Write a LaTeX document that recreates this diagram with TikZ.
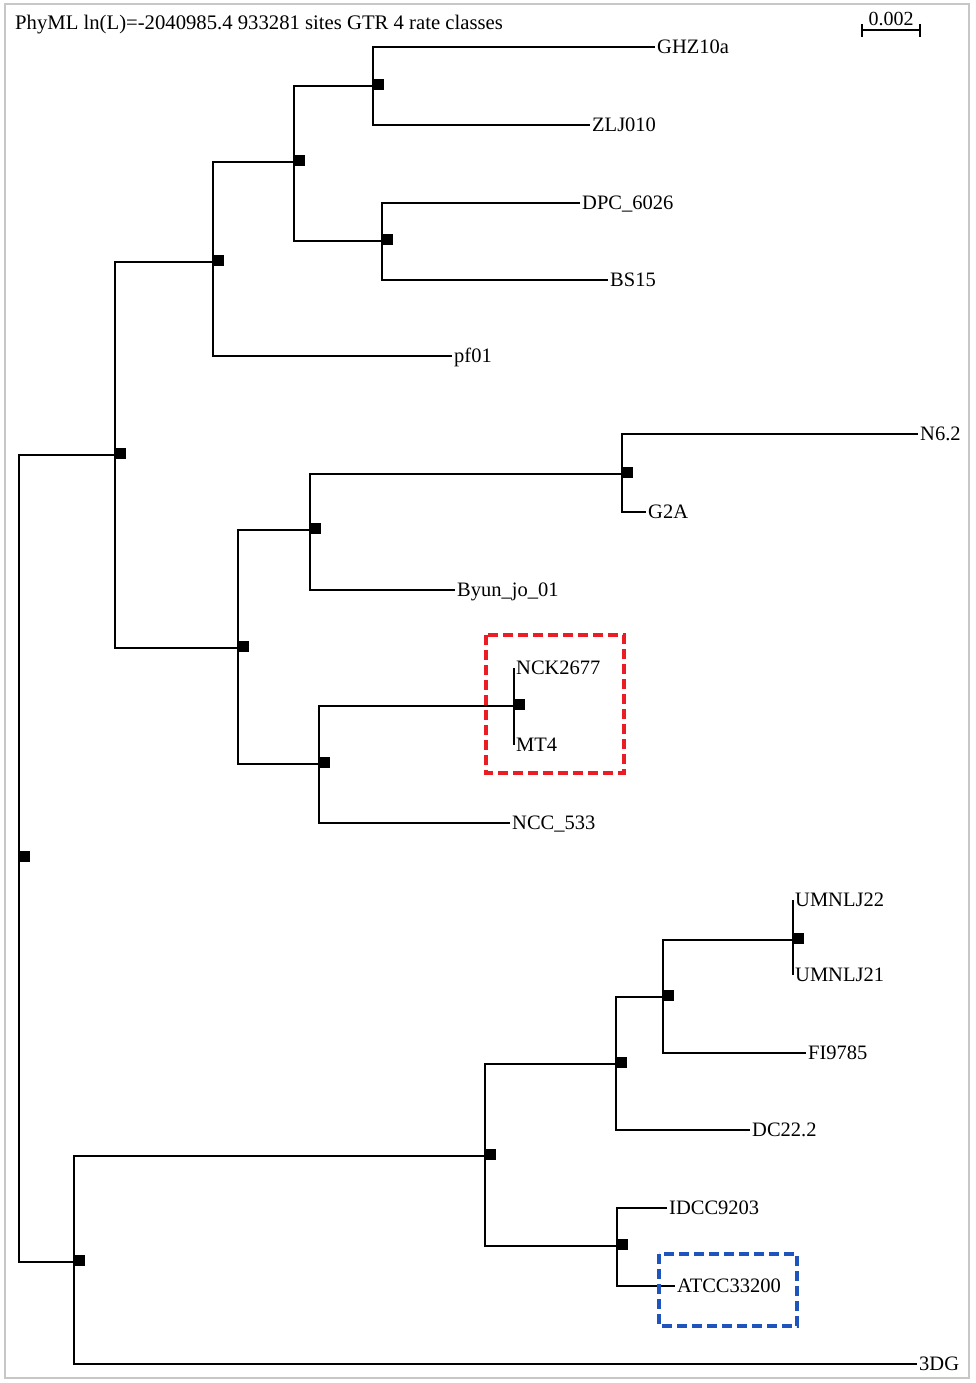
\documentclass[tikz,border=0pt]{standalone}
\usepackage{fontspec}
\setmainfont{Liberation Serif}
\usetikzlibrary{calc}
\definecolor{boxred}{RGB}{236,28,36}
\definecolor{boxblue}{RGB}{31,84,190}
\tikzset{
	leaf/.style={anchor=west, inner xsep=2pt, inner ysep=0pt, text height=13.5pt, text depth=0pt, font=\fontsize{20.5}{24}\selectfont},
	knot/.style={fill=black, inner sep=0pt, minimum size=11pt, anchor=west, yshift=1.5pt},
	branch/.style={line width=1.6pt}
}
\def\knotat(#1){\node[knot] at (#1) {};}

\begin{document}
\begin{tikzpicture}[x=1pt, y=-1pt]
			%%%%% START %%%%%
			\useasboundingbox (0, 0) rectangle (975, 1383);
			\draw[line width=2pt, color=black!22] (5, 4) rectangle (969, 1378);
			
			\node[anchor=base west, inner sep=0pt, font=\fontsize{20.7}{24}\selectfont] (title) at (15, 30) {PhyML ln(L)=-2040985.4 933281 sites GTR 4 rate classes};
			
			% scale bar
			\coordinate (sbl) at (862, 30);
			\coordinate (sbr) at (920, 30);
			\draw[line width=1.4pt] (sbl) -- (sbr);
			\draw[line width=1.4pt] ($(sbl)+(0,-6)$) -- ($(sbl)+(0,7)$);
			\draw[line width=1.4pt] ($(sbr)+(0,-6)$) -- ($(sbr)+(0,7)$);
			\node[anchor=base, inner sep=0pt, font=\fontsize{20}{24}\selectfont] (scale) at (891, 26) {0.002};
			
			% internal nodes
			\coordinate (root) at (19, 857.5);
			\coordinate (A) at (115, 455);
			\coordinate (AA) at (213, 262);
			\coordinate (AAA) at (294, 162);
			\coordinate (AAAA) at (373, 86);
			\coordinate (AAAB) at (382, 241);
			\coordinate (AB) at (238, 648);
			\coordinate (ABA) at (310, 530);
			\coordinate (ABAA) at (622, 474);
			\coordinate (ABB) at (319, 764);
			\coordinate (ABBA) at (514, 706);
			\coordinate (B) at (74, 1262);
			\coordinate (BA) at (485, 1156);
			\coordinate (BAA) at (616, 1064);
			\coordinate (BAAA) at (663, 997);
			\coordinate (BAAAA) at (793, 940);
			\coordinate (BAB) at (617, 1246);
			
			% leaves
			\node[leaf] (GHZ) at (655, 47) {GHZ10a};
			\node[leaf] (ZLJ) at (590, 125) {ZLJ010};
			\node[leaf] (DPC) at (580, 203) {DPC\_6026};
			\node[leaf] (BS) at (608, 280) {BS15};
			\node[leaf] (pf) at (452, 356) {pf01};
			\node[leaf] (N62) at (918, 434) {N6.2};
			\node[leaf] (GA) at (646, 512) {G2A};
			\node[leaf] (Byun) at (455, 590) {Byun\_jo\_01};
			\node[leaf] (NCK) at (514, 668) {NCK2677};
			\node[leaf] (MT) at (514, 745) {MT4};
			\node[leaf] (NCC) at (510, 823) {NCC\_533};
			\node[leaf] (UMb) at (793, 900) {UMNLJ22};
			\node[leaf] (UMa) at (793, 975) {UMNLJ21};
			\node[leaf] (FI) at (806, 1053) {FI9785};
			\node[leaf] (DC) at (750, 1130) {DC22.2};
			\node[leaf] (IDCC) at (667, 1208) {IDCC9203};
			\node[leaf] (ATCC) at (675, 1286) {ATCC33200};
			\node[leaf] (DG) at (917, 1364) {3DG};
			
			% branches
			\draw[branch] (root) |- (A);
			\draw[branch] (root) |- (B);
			\draw[branch] (A) |- (AA);
			\draw[branch] (A) |- (AB);
			\draw[branch] (AA) |- (AAA);
			\draw[branch] (AA) |- (pf.west);
			\draw[branch] (AAA) |- (AAAA);
			\draw[branch] (AAA) |- (AAAB);
			\draw[branch] (GHZ.west) -| (AAAA) |- (ZLJ.west);
			\draw[branch] (DPC.west) -| (AAAB) |- (BS.west);
			\draw[branch] (AB) |- (ABA);
			\draw[branch] (AB) |- (ABB);
			\draw[branch] (ABA) |- (ABAA);
			\draw[branch] (ABA) |- (Byun.west);
			\draw[branch] (N62.west) -| (ABAA) |- (GA.west);
			\draw[branch] (ABB) |- (ABBA);
			\draw[branch] (ABB) |- (NCC.west);
			\draw[branch] (NCK.west) -- (MT.west);
			\draw[branch] (B) |- (BA);
			\draw[branch] (B) |- (DG.west);
			\draw[branch] (BA) |- (BAA);
			\draw[branch] (BA) |- (BAB);
			\draw[branch] (BAA) |- (BAAA);
			\draw[branch] (BAA) |- (DC.west);
			\draw[branch] (BAAA) |- (BAAAA);
			\draw[branch] (BAAA) |- (FI.west);
			\draw[branch] (UMb.west) -- (UMa.west);
			\draw[branch] (IDCC.west) -| (BAB) |- (ATCC.west);
			
			\knotat(root)
			\knotat(A)
			\knotat(AA)
			\knotat(AAA)
			\knotat(AAAA)
			\knotat(AAAB)
			\knotat(AB)
			\knotat(ABA)
			\knotat(ABAA)
			\knotat(ABB)
			\knotat(ABBA)
			\knotat(B)
			\knotat(BA)
			\knotat(BAA)
			\knotat(BAAA)
			\knotat(BAAAA)
			\knotat(BAB)
			
			% highlighted clades
			\draw[line width=3.2pt, color=boxred, dash pattern=on 10pt off 5pt] (486, 635) rectangle (624, 773);
			\draw[line width=3.2pt, color=boxblue, dash pattern=on 10pt off 5pt] (659, 1254) rectangle (797, 1326);
			
			%%%%% END %%%%%
\end{tikzpicture}
\end{document}
